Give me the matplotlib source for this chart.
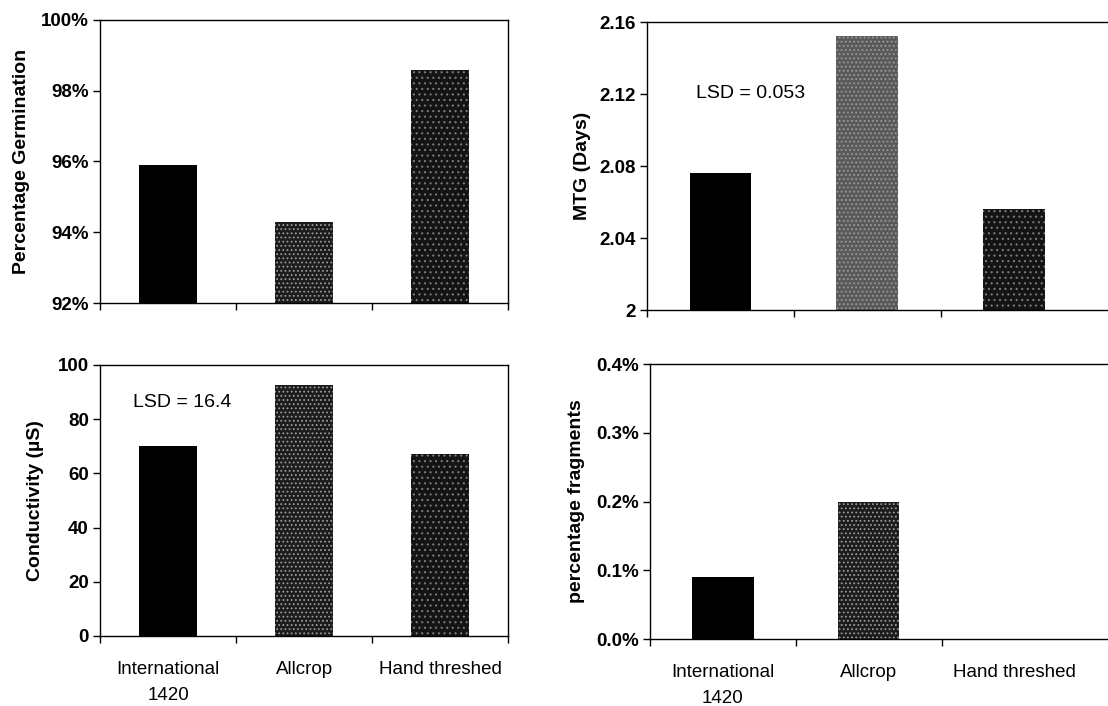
import matplotlib.pyplot as plt
from matplotlib.ticker import FuncFormatter

plt.rcParams['font.family'] = ['Liberation Sans', 'DejaVu Sans']
plt.rcParams['hatch.linewidth'] = 0.8

categories = ['International\n1420', 'Allcrop', 'Hand threshed']
germination = [95.9, 94.3, 98.6]     # %
mtg_days = [2.076, 2.152, 2.056]
conductivity = [70.0, 92.5, 67.0]    # uS
fragments = [0.09, 0.20, 0.0]        # %

face_colors = ['#000000', '#1c1c1c', '#141414']
hatch_colors = ['#000000', '#9a9a9a', '#7a7a7a']
hatches = [None, '....', '...']


def draw_bars(ax, values, bottom=0, mid_color=None):
    for i, v in enumerate(values):
        fc = face_colors[i]
        ec = hatch_colors[i]
        if i == 1 and mid_color is not None:
            fc = mid_color
        ax.bar(i, v - bottom, bottom=bottom, width=0.42, color=fc,
               edgecolor=ec, linewidth=0, hatch=hatches[i], zorder=2)


def style(ax, ylim, yticks, fmt, right_pad=0.0):
    ax.set_xlim(-0.5, 2.5 + right_pad)
    ax.set_ylim(*ylim)
    ax.set_yticks(yticks)
    ax.yaxis.set_major_formatter(FuncFormatter(fmt))
    ax.set_xticks([-0.5, 0.5, 1.5, 2.5])
    ax.set_xticklabels([])
    ax.tick_params(axis='both', direction='out', length=5, width=1, colors='black')
    ax.tick_params(axis='y', labelsize=13.5, pad=3)
    for lab in ax.get_yticklabels():
        lab.set_fontweight('bold')
    for s in ax.spines.values():
        s.set_linewidth(1)
        s.set_color('black')


def cat_labels(ax):
    ax.set_xticks([0, 1, 2], minor=True)
    ax.set_xticklabels(categories, minor=True, fontsize=13.5, linespacing=1.7)
    ax.tick_params(axis='x', which='minor', length=0, pad=18)


fig = plt.figure(figsize=(11.08, 7.06), dpi=100)

# top left: percentage germination
ax1 = fig.add_axes([0.0903, 0.5708, 0.3682, 0.4009])
draw_bars(ax1, germination, bottom=92)
style(ax1, (92, 100), [92, 94, 96, 98, 100], lambda v, p: f'{v:.0f}%')
ax1.set_ylabel('Percentage Germination', fontsize=14, fontweight='bold', labelpad=8)

# top right: MTG
ax2 = fig.add_axes([0.5839, 0.5609, 0.4161, 0.4079])
draw_bars(ax2, mtg_days, bottom=2.0, mid_color='#5a5a5a')
style(ax2, (2.0, 2.16), [2.0, 2.04, 2.08, 2.12, 2.16],
      lambda v, p: '2' if abs(v - 2) < 1e-9 else f'{v:.2f}', right_pad=0.14)
ax2.spines['right'].set_visible(False)
ax2.set_xticks([-0.5, 0.5, 1.5])
ax2.set_ylabel('MTG (Days)', fontsize=14, fontweight='bold', labelpad=6)
ax2.text(0.106, 0.753, 'LSD = 0.053', transform=ax2.transAxes, fontsize=14,
         va='center', ha='left')

# bottom left: conductivity
ax3 = fig.add_axes([0.0903, 0.0992, 0.3682, 0.3839])
draw_bars(ax3, conductivity)
style(ax3, (0, 100), [0, 20, 40, 60, 80, 100], lambda v, p: f'{v:.0f}')
ax3.set_ylabel('Conductivity (\u00b5S)', fontsize=14, fontweight='bold', labelpad=10)
ax3.text(0.081, 0.86, 'LSD = 16.4', transform=ax3.transAxes, fontsize=14,
         va='center', ha='left')
cat_labels(ax3)

# bottom right: fragments
ax4 = fig.add_axes([0.5866, 0.0949, 0.4134, 0.3895])
draw_bars(ax4, fragments)
style(ax4, (0, 0.4), [0, 0.1, 0.2, 0.3, 0.4], lambda v, p: f'{v:.1f}%',
      right_pad=0.14)
ax4.spines['right'].set_visible(False)
ax4.set_xticks([-0.5, 0.5, 1.5])
ax4.set_ylabel('percentage fragments', fontsize=14, fontweight='bold', labelpad=8)
cat_labels(ax4)

fig.savefig('out.png', dpi=100)
